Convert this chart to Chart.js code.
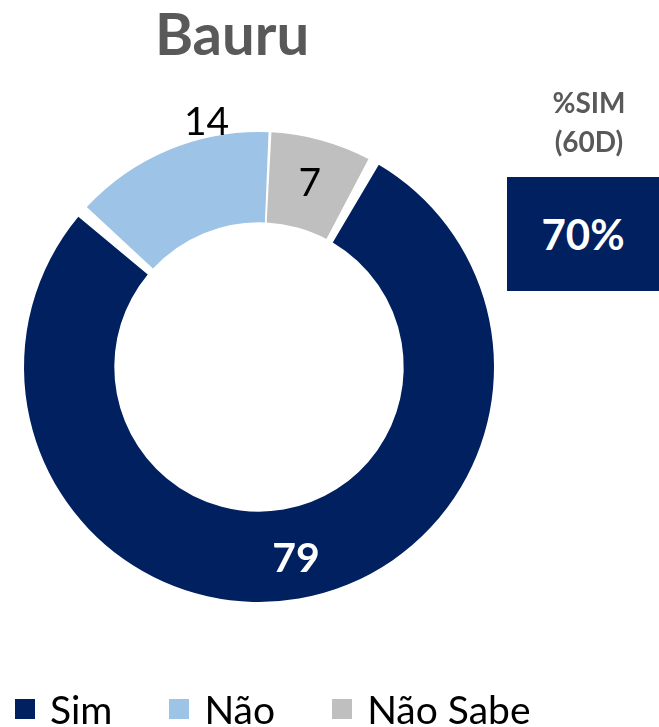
<!DOCTYPE html>
<html>
<head>
<meta charset="utf-8">
<script src="https://cdn.jsdelivr.net/npm/chart.js@4.4.1/dist/chart.umd.min.js"></script>
<style>
  html, body { margin: 0; padding: 0; background: #fff; }
  body { width: 659px; height: 727px; position: relative; overflow: hidden; font-family: Lato, "Open Sans", sans-serif; }
  #wrap { position: absolute; left: 0; top: 0; width: 659px; height: 727px; }
  #title { position: absolute; left: 112px; width: 240px; top: -2px; text-align: center; font-weight: bold; font-size: 58px; color: #595959; line-height: 70px; }
  #kpiLabel { position: absolute; left: 519px; width: 140px; top: 83px; text-align: center; font-weight: bold; font-size: 28px; line-height: 39px; color: #595959; }
  #kpiBox { position: absolute; left: 507px; top: 177px; width: 152px; height: 114px; background: #002060; color: #fff; font-weight: bold; font-size: 42px; display: flex; align-items: center; justify-content: center; }
  #legend { position: absolute; left: 15px; top: 686px; display: flex; font-size: 39px; line-height: 46px; color: #000; }
  .item { display: flex; align-items: center; margin-right: 57px; }
  .sw { width: 20px; height: 20px; margin-right: 15px; }
</style>
</head>
<body>
<div id="wrap"><canvas id="donut"></canvas></div>
<div id="title">Bauru</div>
<div id="kpiLabel">%SIM<br>(60D)</div>
<div id="kpiBox">70%</div>
<div id="legend"></div>
<script>
// data
const categories = ['Sim', 'Não', 'Não Sabe'];
const values = [79, 14, 7];
const colors = ['#002060', '#9DC3E6', '#BFBFBF'];
const labelColors = ['#ffffff', '#000000', '#000000'];
const labelBold = [true, false, false];

// draws the value on each slice (14 sits just outside the ring)
const sliceLabels = {
    id: 'sliceLabels',
    afterDatasetsDraw(chart) {
        const ctx = chart.ctx;
        const arcs = chart.getDatasetMeta(0).data;
        ctx.save();
        ctx.textAlign = 'center';
        ctx.textBaseline = 'middle';
        arcs.forEach(function(arc, i) {
            const p = arc.getProps(['x', 'y', 'startAngle', 'endAngle', 'innerRadius', 'outerRadius'], true);
            let angle = (p.startAngle + p.endAngle) / 2;
            let r = p.innerRadius + (p.outerRadius - p.innerRadius) * 0.55;
            if (i === 0) {
                angle -= 0.02;
                r = p.innerRadius + (p.outerRadius - p.innerRadius) * 0.6;
            }
            if (i === 1) {
                angle += 0.18;
                r = p.outerRadius + 19;
            }
            ctx.font = (labelBold[i] ? 'bold 41px' : '39px') + ' Lato, sans-serif';
            ctx.fillStyle = labelColors[i];
            ctx.fillText(String(values[i]), p.x + Math.cos(angle) * r, p.y + Math.sin(angle) * r);
        });
        ctx.restore();
    }
};

document.addEventListener('DOMContentLoaded', function() {
    const legend = document.getElementById('legend');
    categories.forEach(function(name, i) {
        const item = document.createElement('div');
        item.className = 'item';
        item.innerHTML = '<span class="sw" style="background:' + colors[i] + '"></span><span>' + name + '</span>';
        legend.appendChild(item);
    });

    new Chart(document.getElementById('donut'), {
        type: 'doughnut',
        data: {
            labels: categories,
            datasets: [{
                data: values,
                backgroundColor: colors,
                borderWidth: 0,
                spacing: 7
            }]
        },
        options: {
            responsive: true,
            maintainAspectRatio: false,
            animation: false,
            rotation: 28,
            cutout: '61%',
            layout: {
                padding: { left: 24, right: 165, top: 132, bottom: 125 }
            },
            plugins: {
                legend: { display: false },
                tooltip: { enabled: false }
            }
        },
        plugins: [sliceLabels]
    });
});
</script>
</body>
</html>
